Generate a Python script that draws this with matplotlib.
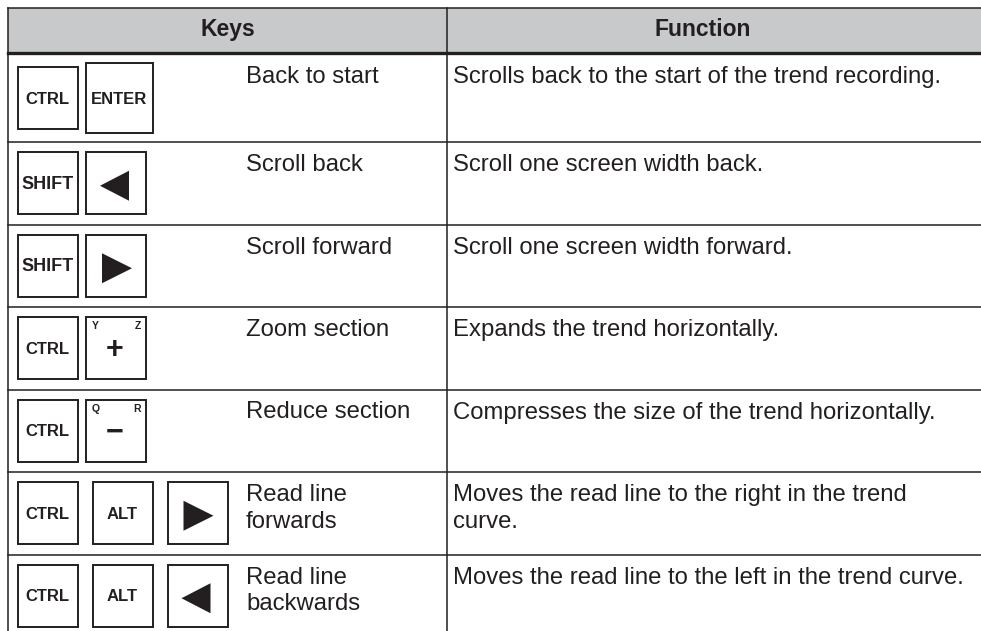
# Trend keys table redrawn with matplotlib, pixel coordinates
import matplotlib.pyplot as plt
from matplotlib.patches import Rectangle, Polygon

plt.rcParams['font.family'] = ['Liberation Sans', 'DejaVu Sans']

headers = ["Keys", "Function"]
key_combos = [["CTRL", "ENTER"], ["SHIFT", "LEFT"], ["SHIFT", "RIGHT"],
              ["CTRL", "PLUS"], ["CTRL", "MINUS"],
              ["CTRL", "ALT", "RIGHT"], ["CTRL", "ALT", "LEFT"]]
key_names = ["Back to start", "Scroll back", "Scroll forward", "Zoom section",
             "Reduce section", "Read line\nforwards", "Read line\nbackwards"]
functions = ["Scrolls back to the start of the trend recording.",
             "Scroll one screen width back.",
             "Scroll one screen width forward.",
             "Expands the trend horizontally.",
             "Compresses the size of the trend horizontally.",
             "Moves the read line to the right in the trend\ncurve.",
             "Moves the read line to the left in the trend curve."]
corner_letters = {"PLUS": ("Y", "Z"), "MINUS": ("Q", "R")}

ink = '#231f20'
gray = '#c8c9cb'
W, H = 981, 631
left, right, top, col_x = 8, 981, 8, 447
head_bot = 53
row_tops = [54, 142, 224.5, 307, 389.5, 472, 554.5, 637]

fig = plt.figure(figsize=(W / 100, H / 100), dpi=100)
ax = fig.add_axes([0, 0, 1, 1])
ax.set_xlim(0, W)
ax.set_ylim(H, 0)
ax.axis('off')

# header
ax.add_patch(Rectangle((left, top), right - left, head_bot - top,
                       facecolor=gray, edgecolor='none'))
ax.plot([left, right], [top, top], color=ink, lw=1.1)
ax.plot([left, right], [head_bot, head_bot], color=ink, lw=2.4)
ax.text(227.5, 36, headers[0], fontsize=16.5, fontweight='bold', color=ink,
        ha='center', va='baseline')
ax.text(703, 36, headers[1], fontsize=16.5, fontweight='bold', color=ink,
        ha='center', va='baseline')

# grid lines
ax.plot([left, left], [top, H], color=ink, lw=1.1)
ax.plot([col_x, col_x], [top, H], color=ink, lw=1.1)
for y in row_tops[1:-1]:
    ax.plot([left, right], [y, y], color=ink, lw=1.1)


def draw_key(x, y, name):
    w, h = (67, 70) if name == "ENTER" else (60, 62)
    y0 = y - h / 2
    ax.add_patch(Rectangle((x, y0), w, h, facecolor='white', edgecolor=ink,
                           lw=1.4))
    cx = x + w / 2
    if name in ("LEFT", "RIGHT"):
        cy = y + 2.5
        if name == "LEFT":
            pts = [(cx - 16, cy), (cx + 13, cy - 15), (cx + 13, cy + 15)]
        else:
            pts = [(cx + 16, cy), (cx - 14, cy - 15), (cx - 14, cy + 15)]
        ax.add_patch(Polygon(pts, closed=True, facecolor=ink, edgecolor='none'))
    elif name in ("PLUS", "MINUS"):
        a, b = corner_letters[name]
        ax.text(x + 6, y0 + 4, a, fontsize=7.5, fontweight='bold', color=ink,
                ha='left', va='top')
        ax.text(x + w - 5, y0 + 4, b, fontsize=7.5, fontweight='bold',
                color=ink, ha='right', va='top')
        sym = "+" if name == "PLUS" else "\u2212"
        ax.text(cx - 1, y + 2, sym, fontsize=22, fontweight='bold', color=ink,
                ha='center', va='center')
    else:
        size = 13 if name == "SHIFT" else 12
        ax.text(cx, y + 1, name, fontsize=size, fontweight='bold', color=ink,
                ha='center', va='center')
    return x + w


for i, keys in enumerate(key_combos):
    rt, rb = row_tops[i], row_tops[i + 1]
    cy = (rt + rb) / 2
    gap = 15 if len(keys) > 2 else 8.5
    x = 17.5
    for k in keys:
        x = draw_key(x, cy, k) + gap
    for j, line in enumerate(key_names[i].split("\n")):
        ax.text(246, rt + 29 + 27 * j, line, fontsize=17.2, color=ink,
                ha='left', va='baseline')
    for j, line in enumerate(functions[i].split("\n")):
        ax.text(453, rt + 29 + 27 * j, line, fontsize=17.2, color=ink,
                ha='left', va='baseline')

fig.savefig('out.png', dpi=100, facecolor='white')
